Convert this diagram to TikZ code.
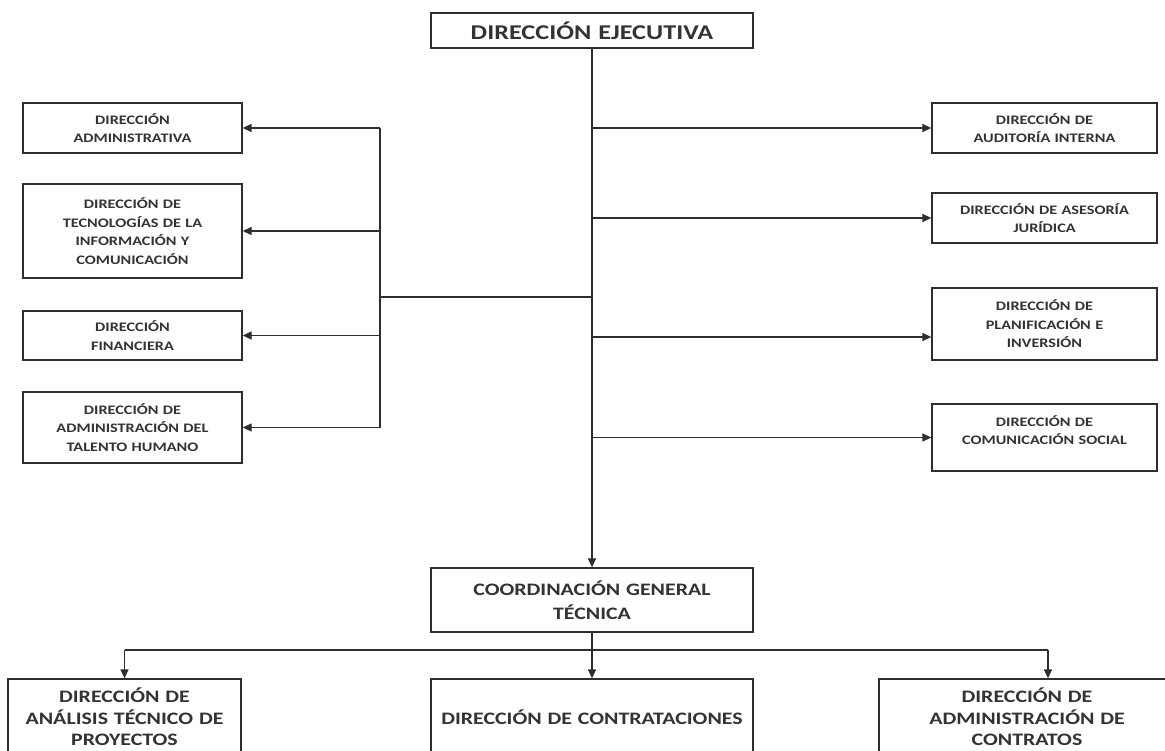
\documentclass[tikz,border=0pt]{standalone}
\usepackage{fontspec}
\setmainfont{Carlito}[FakeStretch=1.25]
\usetikzlibrary{arrows.meta}
\definecolor{linec}{HTML}{2E2E2E}
\definecolor{textc}{HTML}{333333}
\tikzset{
  box/.style 2 args={draw=linec, line width=1.3pt, fill=white, inner sep=0pt, align=center,
    text=textc, font=\bfseries\fontsize{13}{18.5}\selectfont,
    text width=#1, minimum width=#1, minimum height=#2},
  bigbox/.style 2 args={box={#1}{#2}, font=\bfseries\fontsize{17.5}{23.5}\selectfont},
  cutbox/.style 2 args={box={#1}{#2}, font=\bfseries\fontsize{17.5}{21.5}\selectfont}
}
\begin{document}
\begin{tikzpicture}[x=1pt, y=-1pt, line width=1.3pt, draw=linec, >={Triangle[length=9pt,width=8pt]}]
    \clip (0,0) rectangle (1165,751);
    \fill[white] (0,0) rectangle (1165,751);

    \node (ejec) at (592,30.5) [bigbox={322pt}{35pt}, font=\bfseries\fontsize{21}{24}\selectfont] {DIRECCIÓN EJECUTIVA};

    \node (admin) at (132.5,128) [box={219pt}{50pt}] {DIRECCIÓN\\ADMINISTRATIVA};
    \node (tic) at (132.5,231) [box={219pt}{94pt}] {DIRECCIÓN DE\\TECNOLOGÍAS DE LA\\INFORMACIÓN Y\\COMUNICACIÓN};
    \node (finan) at (132.5,335.5) [box={219pt}{49pt}] {DIRECCIÓN\\FINANCIERA};
    \node (talento) at (132.5,427.5) [box={219pt}{71pt}] {DIRECCIÓN DE\\ADMINISTRACIÓN DEL\\TALENTO HUMANO};

    \node (audit) at (1044.5,128) [box={225pt}{50pt}] {DIRECCIÓN DE\\AUDITORÍA INTERNA};
    \node (asesoria) at (1044.5,218) [box={225pt}{50pt}] {DIRECCIÓN DE ASESORÍA\\JURÍDICA};
    \node (plan) at (1044.5,324) [box={225pt}{72pt}] {DIRECCIÓN DE\\PLANIFICACIÓN E\\INVERSIÓN};
    \node (comsoc) at (1044.5,437.5) [box={225pt}{67pt}] {DIRECCIÓN DE\\COMUNICACIÓN SOCIAL\\[-4pt]\mbox{}};

    \node (coord) at (592,600) [bigbox={322pt}{64pt}] {COORDINACIÓN GENERAL\\TÉCNICA};

    \node (analisis) at (124.5,717) [cutbox={233pt}{76pt}] {DIRECCIÓN DE\\ANÁLISIS TÉCNICO DE\\PROYECTOS};
    \node (contrat) at (592,717) [cutbox={322pt}{76pt}] {DIRECCIÓN DE CONTRATACIONES};
    \node (admcon) at (1027,717) [cutbox={296pt}{76pt}] {DIRECCIÓN DE\\ADMINISTRACIÓN DE\\CONTRATOS};

    \draw[->] (ejec.south) -- (coord.north);

    \coordinate (busL) at (380,297);
    \draw (ejec.south |- busL) -- (busL);
    \draw (busL |- admin.east) -- (busL |- talento.east);
    \draw[->] (busL |- admin.east) -- (admin.east);
    \draw[->] (busL |- tic.east) -- (tic.east);
    \draw[->] (busL |- finan.east) -- (finan.east);
    \draw[->] (busL |- talento.east) -- (talento.east);

    \coordinate (pl) at ([yshift=-13pt]plan.west);
    \draw[->] (ejec.south |- audit.west) -- (audit.west);
    \draw[->] (ejec.south |- asesoria.west) -- (asesoria.west);
    \draw[->] (ejec.south |- pl) -- (pl);
    \draw[->] (ejec.south |- comsoc.west) -- (comsoc.west);

    \coordinate (jL) at (124.5,650);
    \coordinate (jR) at (1048,650);
    \draw (jL) -- (jR);
    \draw[->] (coord.south) -- (contrat.north);
    \draw[->] (jL) -- (analisis.north);
    \draw[->] (jR) -- (jR |- admcon.north);
\end{tikzpicture}
\end{document}
